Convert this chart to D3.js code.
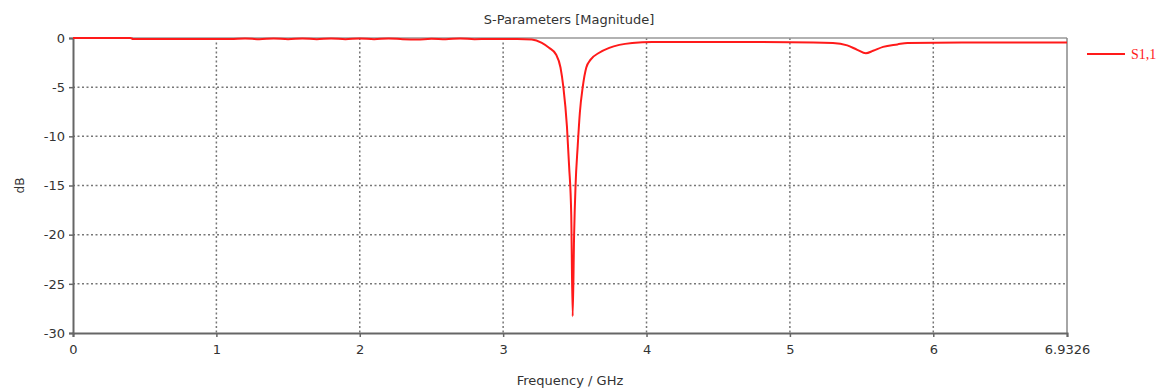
<!DOCTYPE html>
<html>
<head>
<meta charset="utf-8">
<script src="https://cdn.jsdelivr.net/npm/d3@7"></script>
<style>
  body { margin: 0; background: #fff; }
  svg { display: block; font-family: "DejaVu Sans", Verdana, sans-serif; }
</style>
</head>
<body>
<script>
// S1,1 magnitude (GHz, dB)
const freq = [0, 0.4, 0.42, 1.1, 1.2, 1.3, 1.4, 1.5, 1.6, 1.7, 1.8, 1.9, 2.0, 2.1, 2.2, 2.3, 2.4, 2.5, 2.6, 2.7, 2.8, 2.9, 3.0, 3.1, 3.2,
  3.27, 3.32, 3.37, 3.40, 3.42, 3.445, 3.46, 3.475, 3.485, 3.495, 3.505, 3.52, 3.535, 3.555, 3.58, 3.61, 3.67, 3.74, 3.81, 3.90, 4.04,
  4.5, 5.0, 5.3, 5.40, 5.47, 5.53, 5.58, 5.65, 5.75, 5.82, 6.2, 6.9326]
const s11 = [0, 0, -0.1, -0.1, -0.05, -0.12, -0.05, -0.12, -0.05, -0.12, -0.05, -0.12, -0.05, -0.12, -0.05, -0.12, -0.15, -0.08, -0.12, -0.05, -0.12, -0.1, -0.1, -0.1, -0.15,
  -0.5, -1.0, -1.7, -3.0, -5.0, -9.0, -13, -18, -28.3, -20, -15, -11, -7.6, -5, -3, -2.2, -1.5, -1.0, -0.7, -0.5, -0.4,
  -0.4, -0.42, -0.5, -0.75, -1.2, -1.55, -1.3, -0.9, -0.65, -0.5, -0.45, -0.45]

const xTicks = [0, 1, 2, 3, 4, 5, 6, 6.9326]
const yTicks = [0, -5, -10, -15, -20, -25, -30]

const width = 1164, height = 390
const margin = { top: 38, right: 97, bottom: 57, left: 73 }

const svg = d3.select("body").append("svg")
    .attr("width", width)
    .attr("height", height)

const x = d3.scaleLinear().domain([0, 6.9326]).range([margin.left, width - margin.right])
const y = d3.scaleLinear().domain([-30, 0]).range([height - margin.bottom, margin.top])

// grid
svg.append("g")
    .selectAll("line")
    .data(xTicks.filter(d => d > 0 && d < 6.9))
    .join("line")
    .attr("x1", d => x(d)).attr("x2", d => x(d))
    .attr("y1", y(0)).attr("y2", y(-30))
    .attr("stroke", "#777").attr("stroke-width", 1.5).attr("stroke-dasharray", "2,2.5")

svg.append("g")
    .selectAll("line")
    .data(yTicks.filter(d => d < 0 && d > -30))
    .join("line")
    .attr("x1", x(0)).attr("x2", x(6.9326))
    .attr("y1", d => y(d)).attr("y2", d => y(d))
    .attr("stroke", "#777").attr("stroke-width", 1.5).attr("stroke-dasharray", "2,2.5")

// frame
svg.append("line")
    .attr("x1", x(0)).attr("x2", x(6.9326)).attr("y1", y(0)).attr("y2", y(0))
    .attr("stroke", "#999").attr("stroke-width", 1.5)
svg.append("line")
    .attr("x1", x(6.9326)).attr("x2", x(6.9326)).attr("y1", y(0)).attr("y2", y(-30))
    .attr("stroke", "#888").attr("stroke-width", 1.5)

// axes
const xAxis = d3.axisBottom(x).tickValues(xTicks).tickFormat(d => String(d)).tickSize(4).tickPadding(8)
const yAxis = d3.axisLeft(y).tickValues(yTicks).tickFormat(d => String(d)).tickSize(4).tickPadding(4)

const gx = svg.append("g").attr("transform", `translate(0,${y(-30)})`).call(xAxis)
const gy = svg.append("g").attr("transform", `translate(${x(0)},0)`).call(yAxis)

for (const g of [gx, gy]) {
    g.select(".domain").attr("stroke", "#666").attr("stroke-width", 2)
    g.selectAll(".tick line").attr("stroke", "#666").attr("stroke-width", 1.5)
    g.selectAll("text").attr("fill", "#333").attr("font-size", 13).attr("font-family", "DejaVu Sans, sans-serif")
}

// curve
const line = d3.line()
    .x((d, i) => x(freq[i]))
    .y(d => y(d))
    .curve(d3.curveMonotoneX)

svg.append("path")
    .datum(s11)
    .attr("d", line)
    .attr("fill", "none")
    .attr("stroke", "#ff1a1a")
    .attr("stroke-width", 2)

// labels
svg.append("text")
    .attr("x", 569).attr("y", 24)
    .attr("text-anchor", "middle")
    .attr("font-size", 13).attr("fill", "#333")
    .text("S-Parameters [Magnitude]")

svg.append("text")
    .attr("x", 570).attr("y", 385)
    .attr("text-anchor", "middle")
    .attr("font-size", 13).attr("fill", "#333")
    .text("Frequency / GHz")

svg.append("text")
    .attr("transform", `translate(24,${(y(0) + y(-30)) / 2}) rotate(-90)`)
    .attr("text-anchor", "middle")
    .attr("font-size", 12).attr("fill", "#333")
    .text("dB")

// legend
svg.append("line")
    .attr("x1", 1087).attr("x2", 1125).attr("y1", 54).attr("y2", 54)
    .attr("stroke", "#ff1a1a").attr("stroke-width", 2)
svg.append("text")
    .attr("x", 1131).attr("y", 59)
    .attr("font-family", "Liberation Serif, DejaVu Serif, serif")
    .attr("font-size", 14).attr("fill", "#ff1a1a")
    .text("S1,1")
</script>
</body>
</html>
